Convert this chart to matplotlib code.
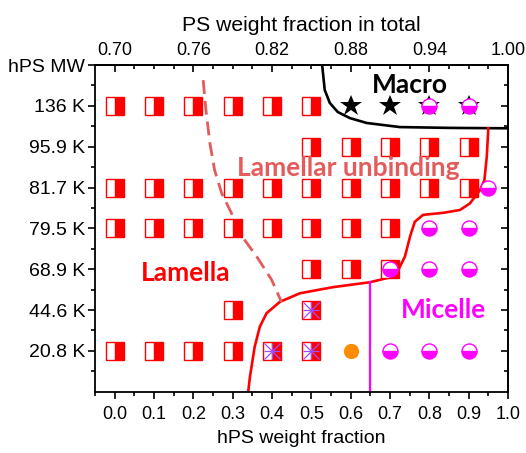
import matplotlib
matplotlib.use("Agg")
import matplotlib.pyplot as plt
from matplotlib.ticker import MultipleLocator, FixedLocator, FormatStrFormatter

plt.rcParams['font.family'] = ['Liberation Sans', 'DejaVu Sans']

# row labels (bottom to top), row index 1..7
mw_labels = ['20.8 K', '44.6 K', '68.9 K', '79.5 K', '81.7 K', '95.9 K', '136 K']

# lamella (half-filled squares)
lam_x = [0.0, 0.1, 0.2, 0.3, 0.4, 0.5,
         0.0, 0.1, 0.2, 0.3, 0.4, 0.5, 0.6, 0.7, 0.8, 0.9,
         0.5, 0.6, 0.7, 0.8, 0.9,
         0.0, 0.1, 0.2, 0.3, 0.4, 0.5, 0.6, 0.7,
         0.5, 0.6, 0.7,
         0.3, 0.5,
         0.0, 0.1, 0.2, 0.3, 0.4, 0.5]
lam_row = [7] * 6 + [5] * 10 + [6] * 5 + [4] * 8 + [3] * 3 + [2] * 2 + [1] * 6

# micelle (half-filled circles)
mic_x = [0.7, 0.8, 0.9, 0.7, 0.8, 0.9, 0.8, 0.9, 0.95, 0.8, 0.9]
mic_row = [1, 1, 1, 3, 3, 3, 4, 4, 5, 7, 7]

# asterisk points
ast_x = [0.4, 0.5, 0.5]
ast_row = [1, 1, 2]

# orange point
orange_x = [0.6]
orange_row = [1]

# macrophase (stars)
star_x = [0.6, 0.7, 0.8, 0.9]
star_row = [7, 7, 7, 7]

# boundary curves
macro_x = [0.527, 0.534, 0.547, 0.567, 0.598, 0.641, 0.725, 0.852, 1.0]
macro_y = [8.05, 7.39, 7.07, 6.85, 6.70, 6.58, 6.48, 6.46, 6.45]

bound_x = [0.339, 0.344, 0.356, 0.369, 0.386, 0.420, 0.471, 0.555, 0.649, 0.700,
           0.721, 0.738, 0.751, 0.763, 0.784, 0.835, 0.878, 0.903, 0.920, 0.929,
           0.940, 0.946, 0.950]
bound_y = [-0.04, 0.37, 1.10, 1.59, 1.92, 2.20, 2.41, 2.56, 2.68, 2.80,
           2.98, 3.31, 3.80, 4.16, 4.33, 4.38, 4.45, 4.61, 4.82, 4.94,
           5.18, 5.75, 6.45]

unbind_x = [0.225, 0.232, 0.242, 0.254, 0.272, 0.297, 0.318, 0.361, 0.399, 0.424]
unbind_y = [7.63, 6.90, 6.09, 5.43, 4.86, 4.37, 3.88, 3.31, 2.74, 2.20]

mic_line_x = [0.65, 0.65]
mic_line_y = [0.0, 2.68]

top_ticks = [0.70, 0.76, 0.82, 0.88, 0.94, 1.00]

fig = plt.figure(figsize=(5.26, 4.53), dpi=100)
ax = fig.add_axes([95 / 526, 1 - 391.7 / 453, 413 / 526, 326.7 / 453])
ax.set_xlim(-0.05, 1.0)
ax.set_ylim(0, 8)

# lines
ax.plot(macro_x, macro_y, color='black', lw=1.9, zorder=2)
ax.plot(bound_x, bound_y, color='red', lw=1.9, zorder=2)
ax.plot(unbind_x, unbind_y, color='#e35b5b', lw=2.0, ls=(0, (5, 2.5)), zorder=2)
ax.plot(mic_line_x, mic_line_y, color='magenta', lw=1.6, zorder=2)

# markers
ax.plot(lam_x, lam_row, ls='none', marker='s', ms=12.5, mew=1.0,
        fillstyle='right', markerfacecolor='red', markerfacecoloralt='white',
        markeredgecolor='red', zorder=3)
ax.plot(ast_x, ast_row, ls='none', marker='+', ms=12, mew=0.9, color='#a04fff', zorder=4)
ax.plot(ast_x, ast_row, ls='none', marker='x', ms=12, mew=0.9, color='#a04fff', zorder=4)
ax.plot(orange_x, orange_row, ls='none', marker='o', ms=11, mew=0,
        color='#ff8c00', zorder=4)
ax.plot(star_x, star_row, ls='none', marker='*', ms=16.5, mew=0, color='black', zorder=4)
ax.plot(mic_x, mic_row, ls='none', marker='o', ms=10.8, mew=1.0,
        fillstyle='bottom', markerfacecolor='magenta', markerfacecoloralt='white',
        markeredgecolor='magenta', zorder=5)

# region labels
txt = dict(fontsize=19, fontweight='bold', family='Lato', ha='center', va='center')
ax.text(0.751, 7.51, 'Macro', color='black', **txt)
ax.text(0.594, 5.48, 'Lamellar unbinding', color='#e35b5b', **txt)
ax.text(0.181, 2.90, 'Lamella', color='red', **txt)
ax.text(0.837, 2.0, 'Micelle', color='magenta', **txt)

# bottom / left axes
ax.xaxis.set_major_locator(MultipleLocator(0.1))
ax.xaxis.set_minor_locator(MultipleLocator(0.05))
ax.xaxis.set_major_formatter(FormatStrFormatter('%.1f'))
ax.set_yticks(range(1, 9), labels=mw_labels + ['hPS MW'])
ax.yaxis.set_minor_locator(FixedLocator([i + 0.5 for i in range(8)]))
ax.tick_params(which='major', direction='out', length=5, width=1.2)
ax.tick_params(which='minor', direction='out', length=3, width=1.2)
ax.tick_params(axis='x', pad=5, labelsize=13)
ax.tick_params(axis='y', pad=2, labelsize=14)
for s in ax.spines.values():
    s.set_linewidth(1.3)
ax.set_xlabel('hPS weight fraction', fontsize=14, labelpad=5)

# top axis
top = ax.secondary_xaxis('top', functions=(lambda h: 0.7 + 0.3 * h,
                                          lambda t: (t - 0.7) / 0.3))
top.set_xticks(top_ticks)
top.xaxis.set_major_formatter(FormatStrFormatter('%.2f'))
top.xaxis.set_minor_locator(FixedLocator([0.7 + 0.015 * k for k in range(21)]))
top.tick_params(which='major', direction='in', length=5, width=1.2, labelsize=13, pad=4)
top.tick_params(which='minor', direction='in', length=3, width=1.2)
top.spines['top'].set_linewidth(1.3)
top.set_xlabel('PS weight fraction in total', fontsize=15.2, labelpad=8)

# right axis
right = ax.secondary_yaxis('right')
right.set_yticks(range(1, 9), labels=[''] * 8)
right.yaxis.set_minor_locator(FixedLocator([i + 0.5 for i in range(8)]))
right.tick_params(which='major', direction='in', length=5, width=1.2)
right.tick_params(which='minor', direction='in', length=3, width=1.2)
right.spines['right'].set_linewidth(1.3)

fig.savefig('out.png', dpi=100)
